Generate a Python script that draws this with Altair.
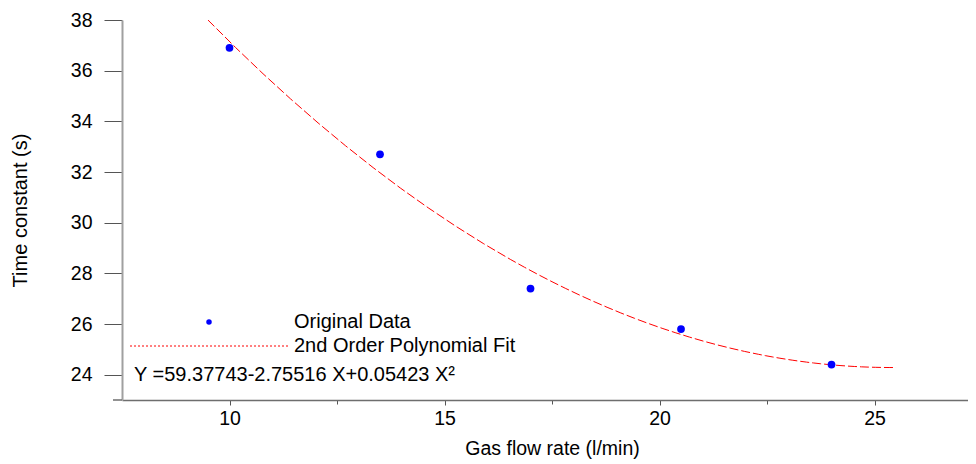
import altair as alt
import pandas as pd

# Data
flow = [10, 13.5, 17, 20.5, 24]          # Gas flow rate (l/min)
tau = [36.9, 32.7, 27.4, 25.8, 24.4]     # Time constant (s)

legend_labels = ["Original Data", "2nd Order Polynomial Fit"]
equation = "Y =59.37743-2.75516 X+0.05423 X\u00b2"

x_ticks = [10, 12.5, 15, 17.5, 20, 22.5, 25]
y_ticks = list(range(24, 39))

FONT = "Liberation Sans"
FS_TICK = 19.5
FS_TEXT = 20

df = pd.DataFrame({"flow": flow, "tau": tau})

xscale = alt.Scale(domain=[7.5, 27.174], nice=False, zero=False)
yscale = alt.Scale(domain=[23, 38], nice=False, zero=False)

x_axis = alt.Axis(
    title="Gas flow rate (l/min)",
    values=x_ticks,
    format="d",
    labelExpr="datum.value % 5 == 0 ? datum.label : ''",
    tickSize={"condition": {"test": "datum.value % 5 == 0", "value": 5}, "value": 4},
    labelPadding=4,
    titlePadding=12,
    titleX=430,
    grid=False,
    domainColor="#6e6e6e",
    domainWidth=1.5,
    tickColor="#555555",
    labelFont=FONT, labelFontSize=FS_TICK, labelColor="#000000",
    titleFont=FONT, titleFontSize=19.5, titleFontWeight="normal", titleColor="#000000",
)

y_axis = alt.Axis(
    title="Time constant (s)",
    values=y_ticks,
    format="d",
    labelExpr="datum.value % 2 == 0 ? datum.label : ''",
    tickSize={"condition": {"test": "datum.value % 2 == 0", "value": 18}, "value": 9},
    labelPadding=12,
    titlePadding=40,
    grid=False,
    domainColor="#a0a0a0",
    domainWidth=2,
    tickColor="#555555",
    labelFont=FONT, labelFontSize=FS_TICK, labelColor="#000000",
    titleFont=FONT, titleFontSize=FS_TEXT, titleFontWeight="normal", titleColor="#000000",
)

base = alt.Chart(df)

fit = base.transform_regression(
    "flow", "tau", method="poly", order=2, extent=[9.5, 25.5]
).mark_line(color="#ff0000", strokeWidth=1, strokeDash=[9, 3]).encode(
    x=alt.X("flow:Q", scale=xscale, axis=x_axis),
    y=alt.Y("tau:Q", scale=yscale, axis=y_axis),
)

points = base.mark_circle(color="#0000ff", opacity=1, size=60).encode(
    x=alt.X("flow:Q", scale=xscale),
    y=alt.Y("tau:Q", scale=yscale),
)

one = pd.DataFrame({"k": [0]})

x_ext = alt.Chart(one).mark_rule(color="#6e6e6e", strokeWidth=1.5).encode(
    x=alt.value(-9), x2=alt.value(0), y=alt.value(380)
)

leg_dot = alt.Chart(one).mark_circle(color="#0000ff", opacity=1, size=30).encode(
    x=alt.value(87), y=alt.value(302)
)
leg_line = alt.Chart(one).mark_rule(stroke="#ff0000", color="#ff0000", strokeWidth=1, strokeDash=[2, 2]).encode(
    x=alt.value(8), x2=alt.value(166), y=alt.value(326)
)
leg_text = alt.Chart(pd.DataFrame({"t": legend_labels, "yy": [302, 326]})).mark_text(
    align="left", baseline="middle", font=FONT, fontSize=FS_TEXT, color="#000000"
).encode(x=alt.value(172), y=alt.Y("yy:Q", scale=None), text="t:N")

eq_text = alt.Chart(pd.DataFrame({"t": [equation]})).mark_text(
    align="left", baseline="middle", font=FONT, fontSize=FS_TEXT, color="#000000"
).encode(x=alt.value(12), y=alt.value(355), text="t:N")

chart = alt.layer(fit, points, x_ext, leg_dot, leg_line, leg_text, eq_text).properties(
    width=846,
    height=380,
    background="#ffffff",
    autosize=alt.AutoSizeParams(type="none"),
    padding={"left": 114, "top": 12, "right": 0, "bottom": 62},
).configure_view(strokeWidth=0, stroke="transparent")

chart.save("out.html", embed_options={"renderer": "svg", "actions": False})
